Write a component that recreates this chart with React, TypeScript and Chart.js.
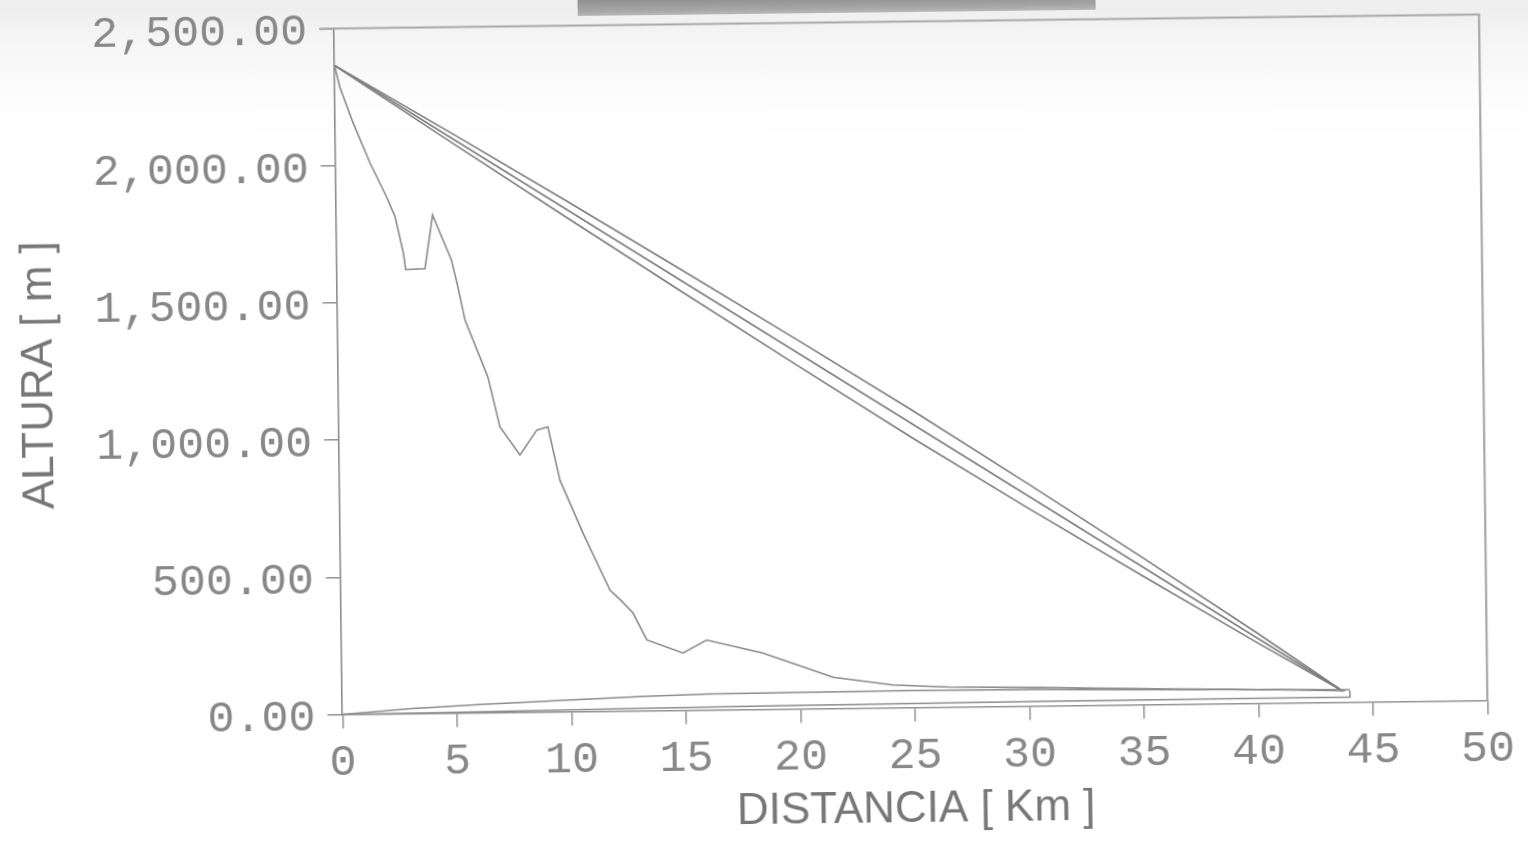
import React, { useEffect, useRef } from "react";
import { Chart, registerables } from "chart.js";

Chart.register(...registerables);

// Axis ticks
const xTicks = [0, 5, 10, 15, 20, 25, 30, 35, 40, 45, 50];
const yTicks = [0, 500, 1000, 1500, 2000, 2500];

// Three gradient lines from the intake down to the outlet
const gradeKm = [0, 5, 10, 15, 20, 25, 30, 35, 40, 43.7];
const gradeUpper = [2365, 2117, 1864, 1607, 1348, 1085, 813, 537, 255, 40];
const gradeMiddle = [2365, 2099, 1833, 1567, 1301, 1035, 769, 503, 237, 40];
const gradeLower = [2365, 2083, 1804, 1528, 1254, 984, 724, 470, 220, 40];

// Terrain profile along the route
const profileKm = [
  0, 0.22, 0.78, 1.5, 2.2, 2.56, 2.9, 3.0, 3.84, 4.2, 5.0, 5.27, 5.56, 6.53,
  7.03, 7.89, 8.64, 9.12, 9.62, 10.6, 11.75, 12.2, 12.74, 13.33, 14.9, 15.94,
  18.39, 21.44, 24.05, 26.5, 30, 35, 40, 43.8,
];
const profileAlt = [
  2365, 2286, 2155, 2008, 1884, 1812, 1681, 1618, 1621, 1816, 1651, 1552, 1432,
  1223, 1041, 938, 1028, 1039, 844, 650, 441, 405, 357, 258, 209, 255, 205, 114,
  83, 73, 68, 58, 50, 42,
];

// Low lines running close to the base of the chart
const baseUpperKm = [0, 3, 6, 9.7, 13, 16, 25, 30, 35, 40, 44];
const baseUpperAlt = [0, 18, 30, 42, 52, 58, 62, 60, 55, 50, 46];
const baseLowerKm = [0, 5, 12, 15, 20, 30, 40, 44, 44];
const baseLowerAlt = [0, 3, 8, 10, 13, 16, 18, 18, 42];

const toPoints = (xs: number[], ys: number[]) =>
  xs.map((x, i) => ({ x, y: ys[i] }));

const fmtAlt = (v: number) =>
  v.toLocaleString("en-US", { minimumFractionDigits: 2, maximumFractionDigits: 2 });

const frame = {
  id: "frame",
  beforeDatasetsDraw(chart: any) {
    const { ctx, chartArea: a } = chart;
    ctx.save();
    ctx.strokeStyle = "#a8a8a8";
    ctx.lineWidth = 2.2;
    ctx.beginPath();
    ctx.moveTo(a.left - 14, a.top);
    ctx.lineTo(a.right, a.top);
    ctx.lineTo(a.right, a.bottom);
    ctx.stroke();
    ctx.restore();
  },
};

export default function App() {
  const ref = useRef<HTMLCanvasElement | null>(null);

  useEffect(() => {
    if (!ref.current) return;
    const line = (data: any, color: string, width: number) => ({
      data,
      borderColor: color,
      borderWidth: width,
      pointRadius: 0,
      fill: false,
      tension: 0,
    });
    const chart = new Chart(ref.current, {
      type: "line",
      data: {
        datasets: [
          line(toPoints(baseUpperKm, baseUpperAlt), "#8c8c8c", 1.5),
          line(toPoints(baseLowerKm, baseLowerAlt), "#8c8c8c", 1.5),
          line(toPoints(profileKm, profileAlt), "#8a8a8a", 1.6),
          line(toPoints(gradeKm, gradeUpper), "#7e7e7e", 1.6),
          line(toPoints(gradeKm, gradeMiddle), "#7e7e7e", 1.6),
          line(toPoints(gradeKm, gradeLower), "#7e7e7e", 1.6),
        ],
      },
      options: {
        responsive: false,
        animation: false,
        events: [],
        layout: { padding: { left: 0, top: 21.5, right: 44.75, bottom: 0 } },
        plugins: { legend: { display: false }, tooltip: { enabled: false } },
        scales: {
          x: {
            type: "linear",
            min: 0,
            max: 50,
            afterBuildTicks: (s: any) => {
              s.ticks = xTicks.map((value) => ({ value }));
            },
            afterFit: (s: any) => {
              s.height = 134.5;
              s.paddingLeft = 0;
              s.paddingRight = 0;
            },
            grid: {
              drawOnChartArea: false,
              drawTicks: true,
              tickLength: 14,
              color: "#929292",
              lineWidth: 1.5,
            },
            border: { display: true, color: "#939393", width: 1.6 },
            ticks: {
              color: "#888888",
              padding: 12,
              maxRotation: 0,
              autoSkip: false,
              font: { family: "'Liberation Mono', monospace", size: 45, lineHeight: 1 },
              callback: (v: any) => String(v),
            },
            title: {
              display: true,
              text: "DISTANCIA [ Km ]",
              color: "#777777",
              padding: { top: 0, bottom: 10 },
              font: { family: "'Liberation Sans', Arial, sans-serif", size: 44, lineHeight: 1 },
            },
          },
          y: {
            type: "linear",
            min: 0,
            max: 2500,
            afterBuildTicks: (s: any) => {
              s.ticks = yTicks.map((value) => ({ value }));
            },
            afterFit: (s: any) => {
              s.width = 338.25;
              s.paddingTop = 0;
              s.paddingBottom = 0;
            },
            grid: {
              drawOnChartArea: false,
              drawTicks: true,
              tickLength: 15,
              color: "#929292",
              lineWidth: 1.5,
            },
            border: { display: true, color: "#8c8c8c", width: 1.6 },
            ticks: {
              color: "#888888",
              padding: 12,
              labelOffset: 4,
              autoSkip: false,
              font: { family: "'Liberation Mono', monospace", size: 45, lineHeight: 1 },
              callback: (v: any) => fmtAlt(Number(v)),
            },
            title: {
              display: true,
              text: "ALTURA [ m ]",
              color: "#777777",
              padding: { top: 18, bottom: 0 },
              font: { family: "'Liberation Sans', Arial, sans-serif", size: 44, lineHeight: 1 },
            },
          },
        },
      },
      plugins: [frame],
    });
    return () => chart.destroy();
  }, []);

  return (
    <div
      style={{
        position: "fixed",
        left: 0,
        top: 0,
        width: 1528,
        height: 842,
        overflow: "hidden",
        background:
          "linear-gradient(180deg, #ededed 0px, #f6f6f6 45px, #fdfdfd 100px, #ffffff 150px)",
      }}
    >
      <div
        style={{
          position: "absolute",
          left: 0,
          top: 0,
          width: 1528,
          height: 842,
          transform: "rotate(-0.7deg)",
          transformOrigin: "910.75px 364.5px",
        }}
      >
        <div
          style={{
            position: "absolute",
            left: 582,
            top: -4,
            width: 518,
            height: 16,
            background: "linear-gradient(180deg, #8f8f8f, #a6a6a6 70%, #b8b8b8)",
          }}
        />
        <canvas ref={ref} width={1528} height={842} style={{ position: "absolute", left: 0, top: 0 }} />
      </div>
    </div>
  );
}
